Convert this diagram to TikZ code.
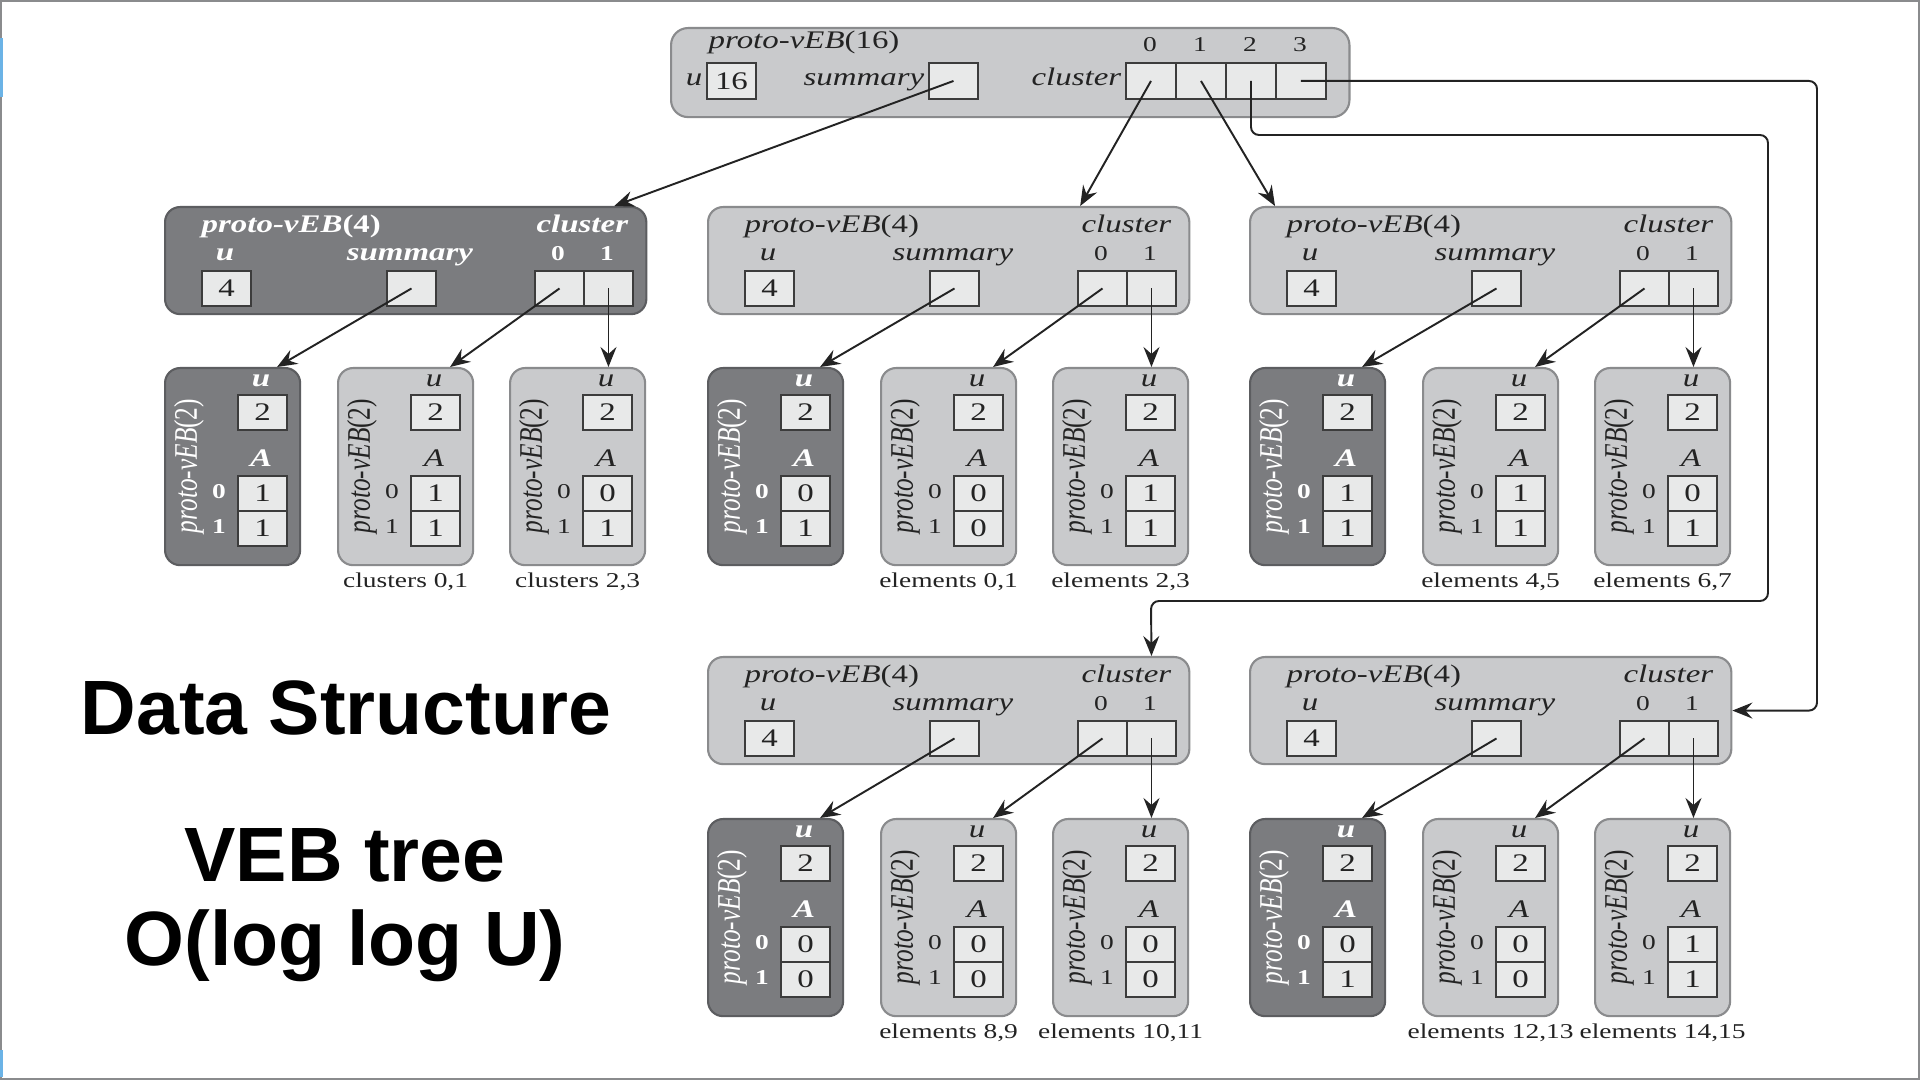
\documentclass[tikz,border=0pt]{standalone}
\usepackage{fontspec}
\setmainfont{Liberation Serif}
\newfontfamily\headfont{Liberation Sans}
\usepackage{graphicx}
\usetikzlibrary{positioning, arrows.meta}

\definecolor{boxlight}{HTML}{C9CACC}
\definecolor{boxdark}{HTML}{7B7C7F}
\definecolor{boxline}{HTML}{8A8B8D}
\definecolor{darkline}{HTML}{5C5D60}
\definecolor{cellfill}{HTML}{E8E9E9}
\definecolor{cellline}{HTML}{3C3C3C}
\definecolor{ink}{HTML}{232323}
\definecolor{paneblue}{HTML}{6BB3E6}

\newcommand{\treefont}{\fontsize{7.2}{8.5}\selectfont}
\newcommand{\idxfont}{\fontsize{6}{7}\selectfont}
\newcommand{\bigfont}{\headfont\bfseries\fontsize{21.9}{26}\selectfont}
\newcommand{\stretchx}[1]{\scalebox{1.3}[1]{#1}}
\newcommand{\stretchy}[1]{\scalebox{1}[1.3]{#1}}

\tikzset{
  lightbox/.style={draw=boxline, fill=boxlight, line width=0.6pt, rounded corners=0.15cm, inner sep=0pt},
  darkbox/.style={draw=darkline, fill=boxdark, line width=0.6pt, rounded corners=0.15cm, inner sep=0pt},
  lightleaf/.style={lightbox, minimum width=1.35cm, minimum height=1.97cm},
  darkleaf/.style={darkbox, minimum width=1.35cm, minimum height=1.97cm},
  cell/.style={draw=cellline, fill=cellfill, line width=0.55pt, minimum width=0.49cm, minimum height=0.35cm,
    inner sep=0pt, font=\treefont, text=ink},
  lighttxt/.style={inner sep=0pt, text height=0.17cm, text depth=0.055cm, font=\treefont, text=ink},
  darktxt/.style={inner sep=0pt, text height=0.17cm, text depth=0.055cm, font=\treefont\bfseries, text=white},
  lightidx/.style={inner sep=0pt, font=\idxfont, text=ink},
  darkidx/.style={inner sep=0pt, font=\idxfont\bfseries, text=white},
  lbl/.style={inner sep=0pt, text height=0.15cm, text depth=0.04cm, font=\idxfont, text=ink},
  arr/.style={-{Stealth[length=0.2cm, width=0.16cm, inset=0.07cm]}, line width=0.55pt, draw=ink},
  bigtxt/.style={anchor=base, inner sep=0pt, font=\bigfont, text=black},
}

% proto-vEB(4): name, x, y, light/dark
\newcommand{\vebfour}[4]{%
  \node[#4box, minimum width=4.81cm, minimum height=1.07cm, anchor=north west] (#1) at (#2,#3) {};
  \node[#4txt, anchor=west] (#1-name) at (#2+37,#3+21) {\stretchx{\textit{proto-vEB}(4)}};
  \node[#4txt, anchor=east] (#1-cl) at (#2+465,#3+21) {\stretchx{\textit{cluster}}};
  \node[#4txt] (#1-ul) at (#2+61,#3+49) {\stretchx{\textit{u}}};
  \node[#4txt] (#1-sl) at (#2+246,#3+49) {\stretchx{\textit{summary}}};
  \node[#4idx] (#1-i0) at (#2+394,#3+48) {\stretchx{0}};
  \node[#4idx] (#1-i1) at (#2+443,#3+48) {\stretchx{1}};
  \node[cell, anchor=north west] (#1-u) at (#2+37,#3+64) {\stretchx{4}};
  \node[cell, anchor=north west] (#1-sum) at (#2+222,#3+64) {};
  \node[cell, anchor=north west] (#1-c0) at (#2+370,#3+64) {};
  \node[cell, anchor=north west] (#1-c1) at (#2+419,#3+64) {};
}

% proto-vEB(2): name, x, y, light/dark, A[0], A[1]
\newcommand{\vebtwo}[6]{%
  \node[#4leaf, anchor=north west] (#1) at (#2,#3) {};
  \node[#4txt] (#1-ul) at (#2+97,#3+14) {\stretchx{\textit{u}}};
  \node[cell, anchor=north west] (#1-u) at (#2+73,#3+27) {\stretchx{2}};
  \node[#4txt] (#1-al) at (#2+97,#3+94) {\stretchx{\textit{A}}};
  \node[#4idx] (#1-i0) at (#2+55,#3+125) {\stretchx{0}};
  \node[#4idx] (#1-i1) at (#2+55,#3+160) {\stretchx{1}};
  \node[cell, anchor=north west] (#1-a0) at (#2+73,#3+108) {\stretchx{#5}};
  \node[cell, anchor=north west] (#1-a1) at (#2+73,#3+143) {\stretchx{#6}};
  \node[#4txt, font=\treefont\mdseries, rotate=90] (#1-name) at (#2+27,#3+99) {\stretchy{\textit{proto-vEB}(2)}};
}

\begin{document}
\begin{tikzpicture}[x=0.01cm, y=-0.01cm]
\fill[white] (0,0) rectangle (1920,1080);
\useasboundingbox (0,0) rectangle (1920,1080);
\draw[boxline, line width=0.55pt] (1,1) rectangle (1919,1079);
\fill[paneblue] (0,38) rectangle (3,97);
\fill[paneblue] (0,1050) rectangle (3,1077);

% proto-vEB(16)
\node[lightbox, rounded corners=0.17cm, minimum width=6.78cm, minimum height=0.89cm, anchor=north west] (T) at (670,27) {};
\node[lighttxt, anchor=west] (T-name) at (708,43) {\stretchx{\textit{proto-vEB}(16)}};
\node[lighttxt] (T-ul) at (694,80) {\stretchx{\textit{u}}};
\node[cell, minimum height=0.36cm, anchor=north west] (T-u) at (706,62) {\stretchx{16}};
\node[lighttxt, anchor=east] (T-sl) at (925,80) {\stretchx{\textit{summary}}};
\node[cell, minimum height=0.36cm, anchor=north west] (T-sum) at (928,62) {};
\node[lighttxt, anchor=east] (T-cl) at (1122,80) {\stretchx{\textit{cluster}}};
\foreach \i in {0,...,3}{
  \node[cell, minimum width=0.5cm, minimum height=0.36cm, anchor=north west] (T-c\i) at (1125+50*\i,62) {};
  \node[lightidx] (T-i\i) at (1150+50*\i,45) {\stretchx{\i}};
}

% proto-vEB(4)
\vebfour{S}{164}{206}{dark}
\vebfour{C0}{707}{206}{light}
\vebfour{C1}{1249}{206}{light}
\vebfour{C2}{707}{656}{light}
\vebfour{C3}{1249}{656}{light}

% proto-vEB(2)
\vebtwo{S-l0}{164}{367}{dark}{1}{1}
\vebtwo{S-l1}{337}{367}{light}{1}{1}
\vebtwo{S-l2}{509}{367}{light}{0}{1}
\vebtwo{C0-l0}{707}{367}{dark}{0}{1}
\vebtwo{C0-l1}{880}{367}{light}{0}{0}
\vebtwo{C0-l2}{1052}{367}{light}{1}{1}
\vebtwo{C1-l0}{1249}{367}{dark}{1}{1}
\vebtwo{C1-l1}{1422}{367}{light}{1}{1}
\vebtwo{C1-l2}{1594}{367}{light}{0}{1}
\vebtwo{C2-l0}{707}{818}{dark}{0}{0}
\vebtwo{C2-l1}{880}{818}{light}{0}{0}
\vebtwo{C2-l2}{1052}{818}{light}{0}{0}
\vebtwo{C3-l0}{1249}{818}{dark}{0}{1}
\vebtwo{C3-l1}{1422}{818}{light}{0}{0}
\vebtwo{C3-l2}{1594}{818}{light}{1}{1}

\node[lbl, below=0.06cm of S-l1] (S-lab1) {\stretchx{clusters 0,1}};
\node[lbl, below=0.06cm of S-l2] (S-lab2) {\stretchx{clusters 2,3}};
\node[lbl, below=0.06cm of C0-l1] (C0-lab1) {\stretchx{elements 0,1}};
\node[lbl, below=0.06cm of C0-l2] (C0-lab2) {\stretchx{elements 2,3}};
\node[lbl, below=0.06cm of C1-l1] (C1-lab1) {\stretchx{elements 4,5}};
\node[lbl, below=0.06cm of C1-l2] (C1-lab2) {\stretchx{elements 6,7}};
\node[lbl, below=0.06cm of C2-l1] (C2-lab1) {\stretchx{elements 8,9}};
\node[lbl, below=0.06cm of C2-l2] (C2-lab2) {\stretchx{elements 10,11}};
\node[lbl, below=0.06cm of C3-l1] (C3-lab1) {\stretchx{elements 12,13}};
\node[lbl, below=0.06cm of C3-l2] (C3-lab2) {\stretchx{elements 14,15}};

% pointers
\draw[arr] (T-sum.center) -- ([xshift=4.5cm]S.north west);
\draw[arr] (T-c0.center) -- ([xshift=3.73cm]C0.north west);
\draw[arr] (T-c1.center) -- ([xshift=0.26cm]C1.north west);
\coordinate (r2a) at (1768,135);
\coordinate (r2b) at (1151,601);
\draw[arr, rounded corners=0.08cm] (T-c2.center) |- (r2a) |- (r2b) -- (C2-c1 |- C2.north);
\coordinate (r3) at (1817,400);
\draw[arr, rounded corners=0.08cm] (T-c3.center) -| (r3) |- (C3.east);

\foreach \p in {S,C0,C1,C2,C3}{
  \draw[arr] (\p-sum.center) -- ([xshift=1.13cm]\p-l0.north west);
  \draw[arr] (\p-c0.center) -- ([xshift=1.13cm]\p-l1.north west);
  \draw[arr] (\p-c1.center) -- (\p-c1 |- \p-l2.north);
}

% title
\node[bigtxt] (title) at (346,735) {Data Structure};
\node[bigtxt] (tree) at (345,882) {VEB tree};
\node[bigtxt] (bound) at (345,966) {O(log log U)};
\end{tikzpicture}
\end{document}
